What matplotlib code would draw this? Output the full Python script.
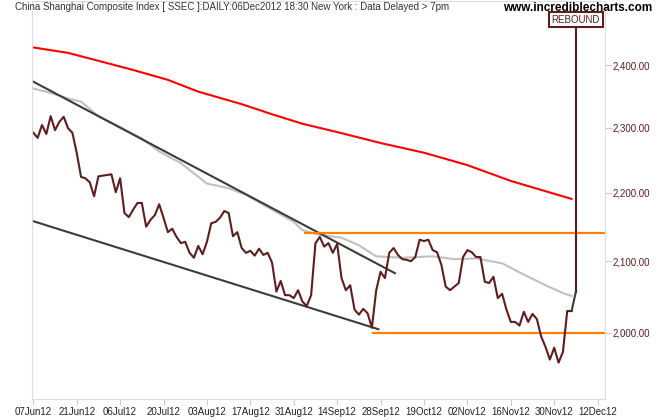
import matplotlib.pyplot as plt
from matplotlib.ticker import FixedLocator, NullLocator, FuncFormatter

plt.rcParams['font.family'] = ['Liberation Sans', 'DejaVu Sans']

# x is trading-day index, 0 = 07Jun12
close = [2292, 2284, 2304, 2290, 2318, 2296, 2309, 2317, 2299, 2292,
         2261, 2224, 2222, 2216, 2195, 2225, 2226, 2227, 2228, 2201,
         2222, 2170, 2164, 2175, 2185, 2185, 2150, 2160, 2167, 2183,
         2163, 2142, 2147, 2135, 2126, 2128, 2112, 2105, 2122, 2110,
         2128, 2155, 2157, 2163, 2173, 2170, 2136, 2142, 2119, 2112,
         2115, 2108, 2118, 2109, 2112, 2098, 2057, 2072, 2052, 2052,
         2048, 2059, 2043, 2037, 2052, 2126, 2135, 2121, 2126, 2112,
         2125, 2076, 2059, 2066, 2032, 2025, 2033, 2027, 2007, 2059,
         2085, 2076, 2112, 2119, 2109, 2103, 2102, 2100, 2106, 2131,
         2129, 2131, 2116, 2113, 2095, 2064, 2059, 2064, 2069, 2106,
         2116, 2113, 2106, 2106, 2071, 2069, 2078, 2048, 2054, 2032,
         2015, 2015, 2010, 2029, 2015, 2026, 2019, 1995, 1981, 1964,
         1980, 1960, 1974, 2030, 2030, 2057]
days = list(range(len(close)))

red_days = [0, 8, 15, 23, 31, 38, 48, 55, 62, 70, 80, 90, 100, 110, 124]
red_ma = [2429, 2420, 2407, 2392, 2376, 2357, 2337, 2321, 2306, 2293,
          2276, 2261, 2242, 2218, 2191]

gray_days = [0, 4, 8, 11, 15, 20, 25, 29, 34, 40, 45, 49, 55, 60, 62, 66,
             71, 75, 79, 85, 92, 97, 102, 108, 113, 118, 122, 124]
gray_ma = [2362, 2355, 2346, 2341, 2318, 2301, 2283, 2263, 2245, 2214,
           2207, 2197, 2175, 2157, 2145, 2138, 2134, 2123, 2107, 2105,
           2107, 2103, 2104, 2097, 2081, 2066, 2055, 2051]

upper_trend_days = [0, 83.3]
upper_trend = [2373, 2083]
lower_trend_days = [0, 79.5]
lower_trend = [2158, 2005]

resistance = 2141
resistance_from = 62.3
support = 2000
support_from = 78

tick_days = [0, 10, 20, 30, 40, 50, 60, 70, 80, 90, 100, 110, 120, 130]
tick_labels = ['07Jun12', '21Jun12', '06Jul12', '20Jul12', '03Aug12', '17Aug12',
               '31Aug12', '14Sep12', '28Sep12', '19Oct12', '02Nov12', '16Nov12',
               '30Nov12', '12Dec12']
y_ticks = [2000, 2100, 2200, 2300, 2400]

maroon = '#5e1e1e'

fig = plt.figure(figsize=(6.6, 4.2), dpi=100)
ax = fig.add_axes([32 / 660, 21 / 420, 573 / 660, 398 / 420])
ax.set_yscale('log')
ax.set_xlim(-0.3, 131.7)
ax.set_ylim(1912, 2507)

ax.plot(red_days, red_ma, color='#ff0000', lw=1.5)
ax.plot(gray_days, gray_ma, color='#c0c0c0', lw=1.5)
ax.plot(upper_trend_days, upper_trend, color='#3c3c3c', lw=1.5)
ax.plot(lower_trend_days, lower_trend, color='#3c3c3c', lw=1.5)
ax.hlines(resistance, resistance_from, 131.7, color='#ff8000', lw=1.6)
ax.hlines(support, support_from, 131.7, color='#ff8000', lw=1.6)
ax.plot(days[:-1], close[:-1], color=maroon, lw=1.5)
ax.plot(days[-2:], close[-2:], color='#3c3c3c', lw=1.5)

# rebound marker
ax.plot([days[-1], days[-1]], [close[-1], 2466], color=maroon, lw=1.5)
ax.text(days[-1], 2475, 'REBOUND', ha='center', va='center', fontsize=7,
        color=maroon, bbox=dict(boxstyle='square,pad=0.25', fc='white', ec=maroon, lw=1.5))

for s in ax.spines.values():
    s.set_color('#dddddd')

ax.xaxis.set_major_locator(FixedLocator(tick_days))
ax.set_xticklabels(tick_labels)
ax.tick_params(axis='x', length=4, color='#cccccc', labelsize=7, labelcolor='#222222', pad=1.5)

ax.yaxis.tick_right()
ax.yaxis.set_major_locator(FixedLocator(y_ticks))
ax.yaxis.set_minor_locator(NullLocator())
ax.yaxis.set_major_formatter(FuncFormatter(lambda v, p: f'{v:,.2f}'))
ax.tick_params(axis='y', length=5, color='#cccccc', labelsize=7, labelcolor=maroon, pad=0.5)

fig.text(15 / 660, 1 - 7 / 420, 'China Shanghai Composite Index [ SSEC ]:DAILY:06Dec2012 18:30 New York : Data Delayed > 7pm',
         va='center', fontsize=7, color='#333333')
fig.text(652 / 660, 1 - 8 / 420, 'www.incrediblecharts.com', ha='right', va='center',
         fontsize=8.5, fontweight='bold', color='black')

fig.savefig('out.png', dpi=100)
